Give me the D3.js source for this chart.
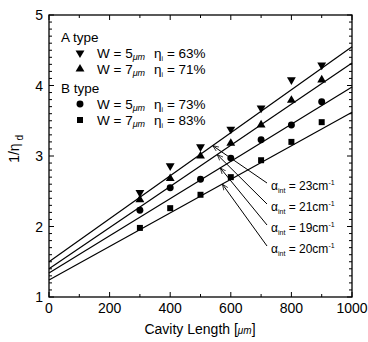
<!DOCTYPE html>
<html>
<head>
<meta charset="utf-8">
<script src="https://cdn.jsdelivr.net/npm/d3@7"></script>
<style>
  body { margin: 0; background: #fff; }
  text { font-family: "Liberation Sans", Arial, sans-serif; fill: #000; }
</style>
</head>
<body>
<svg width="368" height="342"></svg>
<script>
// данные
const lengths = [300, 400, 500, 600, 700, 800, 900];
const typeA5 = [2.48, 2.86, 3.13, 3.38, 3.68, 4.08, 4.29];
const typeA7 = [2.38, 2.68, 3.00, 3.18, 3.44, 3.79, 4.08];
const typeB5 = [2.23, 2.55, 2.67, 2.97, 3.23, 3.44, 3.77];
const typeB7 = [1.98, 2.26, 2.45, 2.70, 2.94, 3.20, 3.48];

// прямые аппроксимации: значение при L=0 и при L=1000
const fitStart = [1.50, 1.40, 1.34, 1.24];
const fitEnd = [4.55, 4.32, 3.98, 3.62];

// подписи alpha_int и точки, куда указывают стрелки
const alphaValues = [23, 21, 19, 20];
const arrowTargetX = [540, 555, 565, 572];
const arrowFitIndex = [0, 1, 2, 3];

const xTicks = [0, 200, 400, 600, 800, 1000];
const yTicks = [1, 2, 3, 4, 5];

const svg = d3.select("svg");
const x = d3.scaleLinear().domain([0, 1000]).range([49, 352]);
const y = d3.scaleLinear().domain([1, 5]).range([297, 15]);

const series = [
    { vals: typeA5, sym: "down" },
    { vals: typeA7, sym: "up" },
    { vals: typeB5, sym: "circle" },
    { vals: typeB7, sym: "square" }
];

function symPath(sym) {
    if (sym == "circle") return d3.symbol(d3.symbolCircle, 38)();
    if (sym == "square") return d3.symbol(d3.symbolSquare, 36)();
    return d3.symbol(d3.symbolTriangle, 34)();
}
function symTransform(sym, px, py) {
    return `translate(${px},${py})` + (sym == "down" ? " rotate(180)" : "");
}

// рамка
svg.append("rect")
    .attr("x", x(0)).attr("y", y(5))
    .attr("width", x(1000) - x(0)).attr("height", y(1) - y(5))
    .attr("fill", "none").attr("stroke", "#000").attr("stroke-width", 1.3);

// деления на осях (внутрь)
const g = svg.append("g").attr("stroke", "#000").attr("stroke-width", 1);
d3.range(0, 1001, 100).forEach(v => {
    const len = v % 200 == 0 ? 5 : 3;
    g.append("line").attr("x1", x(v)).attr("x2", x(v)).attr("y1", y(1)).attr("y2", y(1) - len);
    g.append("line").attr("x1", x(v)).attr("x2", x(v)).attr("y1", y(5)).attr("y2", y(5) + len);
});
d3.range(10, 51, 1).forEach(k => {
    const v = k / 10;
    const len = k % 10 == 0 ? 5 : 3;
    g.append("line").attr("x1", x(0)).attr("x2", x(0) + len).attr("y1", y(v)).attr("y2", y(v));
    g.append("line").attr("x1", x(1000)).attr("x2", x(1000) - len).attr("y1", y(v)).attr("y2", y(v));
});

// подписи делений
svg.selectAll(".xt").data(xTicks).join("text")
    .attr("x", d => x(d)).attr("y", 313)
    .attr("text-anchor", "middle").attr("font-size", 14)
    .text(d => d);
svg.selectAll(".yt").data(yTicks).join("text")
    .attr("x", 43).attr("y", d => y(d) + 5)
    .attr("text-anchor", "end").attr("font-size", 14)
    .text(d => d);

// подписи осей
const xl = svg.append("text").attr("x", 200).attr("y", 334)
    .attr("text-anchor", "middle").attr("font-size", 14);
xl.append("tspan").text("Cavity Length [");
xl.append("tspan").attr("font-size", 10).attr("font-style", "italic").text("μm");
xl.append("tspan").text("]");

const yl = svg.append("text")
    .attr("transform", `translate(19,${y(3.1)}) rotate(-90)`)
    .attr("text-anchor", "middle").attr("font-size", 14);
yl.append("tspan").text("1/η");
yl.append("tspan").attr("font-size", 10).attr("dy", 4).text(" d");

// прямые аппроксимации
const line = d3.line().x(d => x(d[0])).y(d => y(d[1]));
fitStart.forEach((s, i) => {
    svg.append("path")
        .attr("d", line([[0, s], [1000, fitEnd[i]]]))
        .attr("fill", "none").attr("stroke", "#000").attr("stroke-width", 1.2);
});

// точки
series.forEach(s => {
    svg.append("g").selectAll("path").data(s.vals).join("path")
        .attr("d", symPath(s.sym))
        .attr("transform", (d, i) => symTransform(s.sym, x(lengths[i]), y(d)))
        .attr("fill", "#000");
});

// стрелки к прямым
const fitAt = (i, L) => fitStart[i] + (fitEnd[i] - fitStart[i]) * L / 1000;
const labelY = [186, 207, 228, 249];
svg.append("defs").append("marker")
    .attr("id", "ah").attr("viewBox", "0 0 10 10").attr("refX", 10).attr("refY", 5)
    .attr("markerWidth", 6).attr("markerHeight", 6).attr("orient", "auto")
    .append("path").attr("d", "M0,1 L10,5 L0,9").attr("fill", "none").attr("stroke", "#000").attr("stroke-width", 1.2);

alphaValues.forEach((a, i) => {
    const tx = x(arrowTargetX[i]);
    const ty = y(fitAt(arrowFitIndex[i], arrowTargetX[i]));
    svg.append("line")
        .attr("x1", 267).attr("y1", labelY[i] - 3)
        .attr("x2", tx).attr("y2", ty)
        .attr("stroke", "#000").attr("stroke-width", 1)
        .attr("marker-end", "url(#ah)");
    const t = svg.append("text").attr("x", 271).attr("y", labelY[i] + 4).attr("font-size", 12);
    t.append("tspan").text("α");
    t.append("tspan").attr("font-size", 7).attr("dy", 3).text("int");
    t.append("tspan").attr("dy", -3).text(` = ${a}cm`);
    t.append("tspan").attr("font-size", 7).attr("dy", -5).text("-1");
});

// легенда
const legendRows = [
    { kind: "head", label: "A type", yy: 37 },
    { kind: "item", sym: "down", w: 5, eta: 63, yy: 53 },
    { kind: "item", sym: "up", w: 7, eta: 71, yy: 69 },
    { kind: "head", label: "B type", yy: 88 },
    { kind: "item", sym: "circle", w: 5, eta: 73, yy: 104 },
    { kind: "item", sym: "square", w: 7, eta: 83, yy: 120 }
];
legendRows.forEach(r => {
    if (r.kind == "head") {
        svg.append("text").attr("x", 61).attr("y", r.yy + 5).attr("font-size", 13.5).text(r.label);
        return;
    }
    svg.append("path").attr("d", symPath(r.sym))
        .attr("transform", symTransform(r.sym, 80, r.yy)).attr("fill", "#000");
    const t = svg.append("text").attr("x", 97).attr("y", r.yy + 5).attr("font-size", 13.5);
    t.append("tspan").text(`W = ${r.w}`);
    t.append("tspan").attr("font-size", 9).attr("font-style", "italic").attr("dy", 2).text("μm");
    t.append("tspan").attr("dy", -2).attr("dx", 9).text("η");
    t.append("tspan").attr("font-size", 7).attr("dy", 3).text("i");
    t.append("tspan").attr("dy", -3).text(` = ${r.eta}%`);
});
</script>
</body>
</html>
